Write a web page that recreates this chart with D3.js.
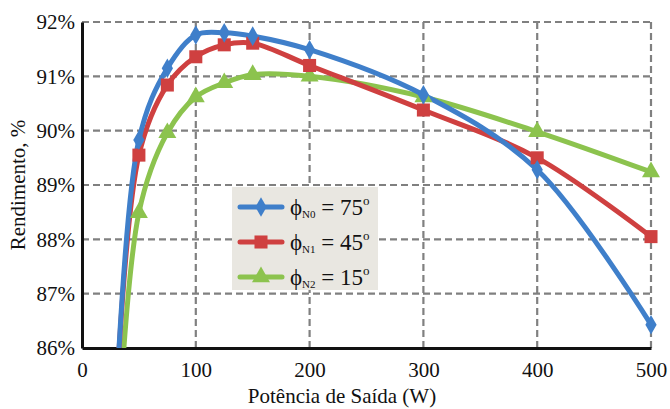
<!DOCTYPE html>
<html>
<head>
<meta charset="utf-8">
<script src="https://cdn.jsdelivr.net/npm/d3@7"></script>
</head>
<body style="margin:0; font-family: 'Times New Roman';">
<svg id="chart" width="670" height="409" style="font-family: 'Times New Roman'"></svg>
<script>
// Output power (W) at each measured point
const power = [25, 50, 75, 100, 125, 150, 200, 300, 400, 500];
// Efficiency (%) for each phase angle setting
const effN0 = [82.6, 89.83, 91.15, 91.76, 91.8, 91.74, 91.49, 90.66, 89.28, 86.43];
const effN1 = [82.9, 89.55, 90.84, 91.36, 91.58, 91.61, 91.2, 90.38, 89.5, 88.05];
const effN2 = [81.6, 88.49, 89.96, 90.62, 90.88, 91.03, 91.0, 90.62, 89.98, 89.24];

const xTicks = [0, 100, 200, 300, 400, 500];
const yTicks = [86, 87, 88, 89, 90, 91, 92];

const seriesNames = ["N0", "N1", "N2"];
const seriesAngles = ["75", "45", "15"];
const seriesColors = ["#3f7fca", "#cf4040", "#8cc34e"];
const seriesMarkers = [d3.symbolDiamond, d3.symbolSquare, d3.symbolTriangle];

const series = [effN0, effN1, effN2].map((vals, i) => ({
  name: seriesNames[i],
  angle: seriesAngles[i],
  color: seriesColors[i],
  marker: seriesMarkers[i],
  points: power.map((p, j) => ({ x: p, y: vals[j] }))
}));

const svg = d3.select("#chart");
const plotL = 82, plotR = 651, plotT = 22, plotB = 348;
const fontName = "Times New Roman";

const x = d3.scaleLinear().domain([0, 500]).range([plotL, plotR]);
const y = d3.scaleLinear().domain([86, 92]).range([plotB, plotT]);

svg.append("defs").append("clipPath").attr("id", "plotClip")
  .append("rect").attr("x", plotL).attr("y", plotT - 10)
  .attr("width", plotR - plotL + 10).attr("height", plotB - plotT + 10);

// Dashed grid
const grid = svg.append("g").attr("stroke", "#808080").attr("stroke-width", 2.2)
  .attr("stroke-dasharray", "7,4");
grid.selectAll("line.h").data(yTicks.filter(t => t > 86)).join("line")
  .attr("class", "h")
  .attr("x1", plotL).attr("x2", plotR)
  .attr("y1", d => y(d)).attr("y2", d => y(d));
grid.selectAll("line.v").data(xTicks.filter(t => t > 0)).join("line")
  .attr("class", "v")
  .attr("x1", d => x(d)).attr("x2", d => x(d))
  .attr("y1", plotT).attr("y2", plotB);

// Axes
const xAxis = d3.axisBottom(x).tickValues(xTicks).tickSize(0).tickPadding(14)
  .tickFormat(d3.format("d"));
const yAxis = d3.axisLeft(y).tickValues(yTicks).tickSize(0).tickPadding(7)
  .tickFormat(d => d + "%");

const gx = svg.append("g").attr("transform", `translate(0,${plotB})`).call(xAxis);
const gy = svg.append("g").attr("transform", `translate(${plotL},0)`).call(yAxis);
[gx, gy].forEach(g => {
  g.attr("font-family", fontName).attr("font-size", 21);
  g.select(".domain").attr("stroke", "#111").attr("stroke-width", 3);
  g.selectAll("text").style("font-family", fontName).attr("fill", "#111");
});

function markerSize(m) {
  return m === d3.symbolSquare ? 170 : m === d3.symbolDiamond ? 110 : 140;
}

// Lines and markers
const line = d3.line().x(d => x(d.x)).y(d => y(d.y)).curve(d3.curveCatmullRom.alpha(0.5));
const plot = svg.append("g").attr("clip-path", "url(#plotClip)");
[series[2], series[1], series[0]].forEach(s => {
  plot.append("path").datum(s.points)
    .attr("fill", "none").attr("stroke", s.color).attr("stroke-width", 5)
    .attr("stroke-linejoin", "round")
    .attr("d", line);
});
[series[2], series[1], series[0]].forEach(s => {
  const sym = d3.symbol().type(s.marker).size(markerSize(s.marker));
  plot.selectAll(null).data(s.points).join("path")
    .attr("transform", d => `translate(${x(d.x)},${y(d.y)})`)
    .attr("d", sym).attr("fill", s.color);
});

// Axis titles
svg.append("text").attr("x", 342).attr("y", 403).attr("text-anchor", "middle")
  .style("font-family", fontName).attr("font-size", 21).attr("fill", "#111")
  .text("Potência de Saída (W)");
svg.append("text").attr("transform", "translate(25,185) rotate(-90)")
  .attr("text-anchor", "middle").style("font-family", fontName).attr("font-size", 21)
  .attr("fill", "#111").text("Rendimento, %");

// Legend
const lg = svg.append("g").attr("transform", "translate(232,187)");
lg.append("rect").attr("width", 146).attr("height", 103).attr("fill", "#e9e7e1");
series.forEach((s, i) => {
  const cy = 20 + i * 35;
  const row = lg.append("g").attr("transform", `translate(0,${cy})`);
  row.append("line").attr("x1", 8).attr("x2", 50).attr("y1", 0).attr("y2", 0)
    .attr("stroke", s.color).attr("stroke-width", 5).attr("stroke-linecap", "round");
  const sym = d3.symbol().type(s.marker).size(markerSize(s.marker));
  row.append("path").attr("transform", "translate(29,0)").attr("d", sym).attr("fill", s.color);
  const t = row.append("text").attr("x", 58).attr("y", 8)
    .style("font-family", fontName).attr("font-size", 23).attr("fill", "#111");
  t.append("tspan").text("ϕ");
  t.append("tspan").attr("font-size", 11).attr("dy", 3).text(s.name);
  t.append("tspan").attr("dy", -3).text(" = " + s.angle);
  t.append("tspan").attr("font-size", 13).attr("dy", -10).text("o");
});
</script>
</body>
</html>
